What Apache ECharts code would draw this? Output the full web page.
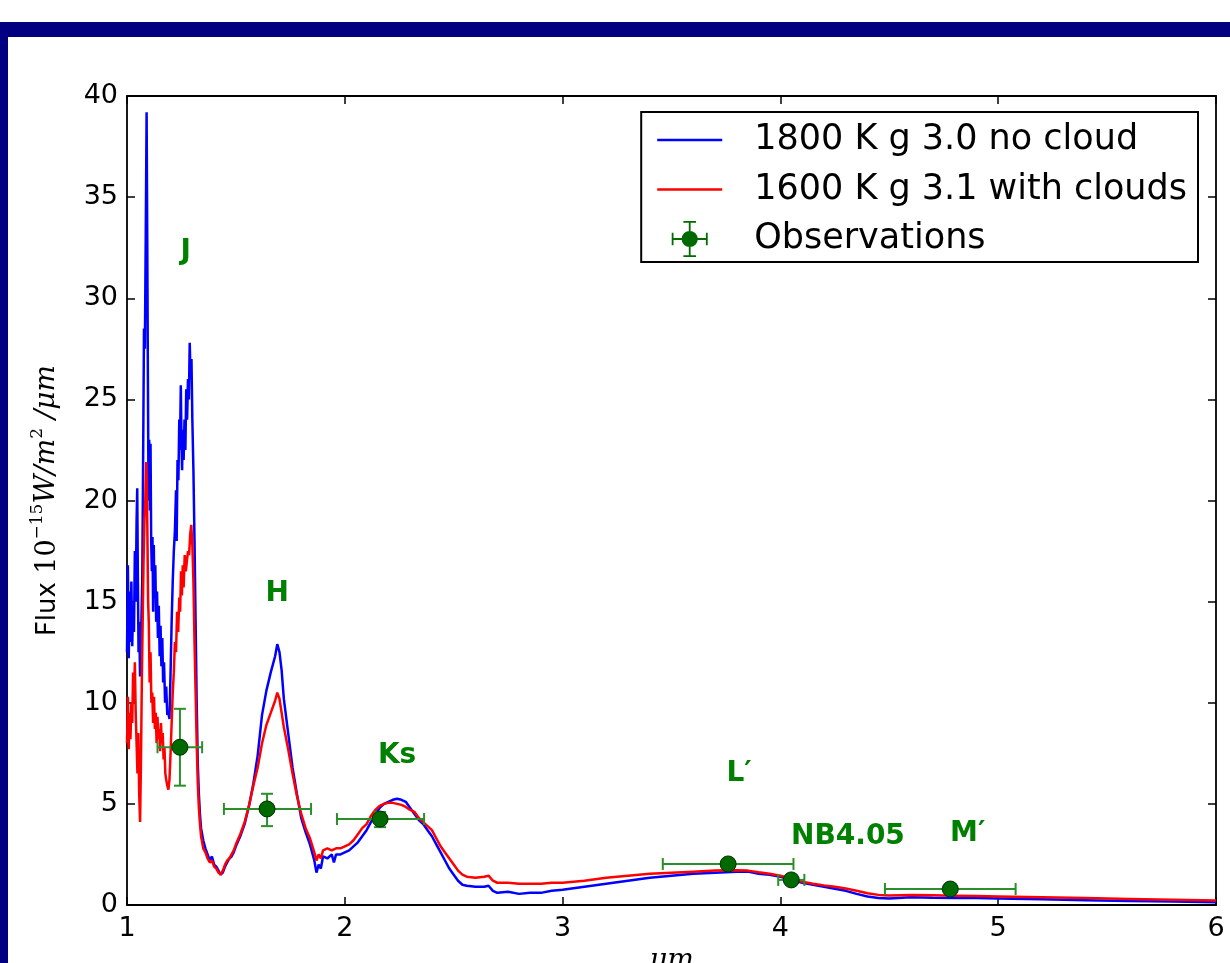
<!DOCTYPE html>
<html>
<head>
<meta charset="utf-8">
<script src="https://cdn.jsdelivr.net/npm/echarts@6/dist/echarts.min.js"></script>
<style>
html,body{margin:0;padding:0;background:#fff;overflow:hidden;}
#chart{width:1230px;height:963px;}
</style>
</head>
<body>
<div id="chart"></div>
<script>
// ---------- DATA ----------
const xTicks = [1, 2, 3, 4, 5, 6];
const yTicks = [0, 5, 10, 15, 20, 25, 30, 35, 40];

const seriesNames = ['1800 K g 3.0 no cloud', '1600 K g 3.1 with clouds', 'Observations'];

// 1800 K g 3.0 no cloud  [wavelength µm, flux]
const noCloud = [
[1.000,12.5],[1.004,16.8],[1.008,12.2],[1.012,15.5],[1.016,13.0],[1.020,16.0],[1.024,12.8],[1.028,14.8],
[1.032,13.5],[1.036,17.5],[1.040,15.0],[1.044,19.0],[1.047,20.6],[1.050,16.0],[1.053,12.5],[1.056,14.0],
[1.060,11.3],[1.064,13.0],[1.070,16.0],[1.074,22.0],[1.078,28.5],[1.082,27.5],[1.086,33.0],[1.090,39.2],
[1.093,33.0],[1.096,26.0],[1.099,20.0],[1.102,23.0],[1.105,19.5],[1.108,22.8],[1.111,18.0],[1.114,16.5],
[1.117,18.2],[1.120,14.5],[1.123,17.8],[1.126,15.2],[1.130,16.8],[1.134,14.0],[1.138,15.5],[1.142,13.2],
[1.146,14.8],[1.150,12.3],[1.154,13.8],[1.158,11.8],[1.162,13.2],[1.166,11.0],[1.170,12.0],[1.175,10.0],
[1.180,10.8],[1.185,9.4],[1.190,9.5],[1.195,9.2],[1.200,11.5],[1.205,14.0],[1.210,16.0],[1.215,17.5],
[1.220,18.5],[1.225,20.5],[1.228,18.0],[1.232,22.0],[1.236,21.0],[1.240,24.0],[1.243,22.5],[1.247,25.7],
[1.250,23.0],[1.253,21.5],[1.256,23.5],[1.260,22.0],[1.264,24.0],[1.268,22.5],[1.272,25.5],[1.276,24.0],
[1.280,26.0],[1.284,25.0],[1.288,27.8],[1.292,26.0],[1.296,27.0],[1.300,24.0],[1.305,21.5],[1.310,18.0],
[1.315,14.0],[1.320,10.0],[1.325,7.0],[1.330,5.5],[1.335,4.5],[1.340,3.8],[1.350,3.2],[1.360,2.8],
[1.370,2.5],[1.380,2.2],[1.390,2.4],[1.400,2.0],[1.410,1.9],[1.420,1.7],[1.430,1.5],[1.440,1.6],
[1.450,1.9],[1.460,2.1],[1.470,2.3],[1.480,2.4],[1.490,2.6],[1.500,2.9],[1.520,3.4],[1.540,4.0],
[1.560,4.9],[1.580,6.0],[1.600,7.4],[1.620,9.4],[1.640,10.6],[1.660,11.5],[1.680,12.3],[1.690,12.9],
[1.700,12.5],[1.710,11.6],[1.720,10.2],[1.740,8.5],[1.760,6.8],[1.780,5.5],[1.800,4.3],[1.820,3.6],
[1.840,3.0],[1.860,2.2],[1.870,1.6],[1.880,2.0],[1.890,1.8],[1.900,2.4],[1.920,2.3],[1.940,2.5],
[1.950,2.1],[1.960,2.5],[1.980,2.5],[2.000,2.6],[2.020,2.7],[2.040,2.9],[2.060,3.1],[2.080,3.4],
[2.100,3.7],[2.120,4.1],[2.140,4.5],[2.160,4.8],[2.180,5.0],[2.200,5.1],[2.220,5.2],[2.240,5.25],
[2.260,5.2],[2.280,5.1],[2.300,4.8],[2.320,4.5],[2.340,4.2],[2.360,4.0],[2.380,3.7],[2.400,3.4],
[2.420,3.0],[2.440,2.6],[2.460,2.2],[2.480,1.8],[2.500,1.5],[2.520,1.2],[2.540,1.0],[2.560,0.95],
[2.600,0.9],[2.640,0.9],[2.660,0.95],[2.680,0.7],[2.700,0.6],[2.750,0.65],[2.800,0.55],[2.850,0.6],
[2.900,0.6],[2.950,0.7],[3.000,0.75],[3.100,0.9],[3.200,1.05],[3.300,1.2],[3.400,1.35],[3.500,1.45],
[3.600,1.55],[3.700,1.6],[3.800,1.65],[3.850,1.65],[3.900,1.55],[3.950,1.5],[4.000,1.4],[4.050,1.25],
[4.100,1.1],[4.150,1.0],[4.200,0.9],[4.250,0.8],[4.300,0.7],[4.350,0.55],[4.400,0.42],[4.450,0.35],
[4.500,0.32],[4.600,0.38],[4.700,0.36],[4.800,0.35],[4.900,0.34],[5.000,0.32],[5.200,0.28],[5.400,0.24],
[5.600,0.2],[5.800,0.17],[6.000,0.14]
];

// 1600 K g 3.1 with clouds  [wavelength µm, flux]
const withClouds = [
[1.000,8.0],[1.004,10.3],[1.008,7.7],[1.012,9.5],[1.016,8.2],[1.020,10.0],[1.024,9.0],[1.028,11.5],
[1.032,10.0],[1.036,12.0],[1.040,9.5],[1.044,8.0],[1.048,6.5],[1.052,8.5],[1.056,5.5],[1.060,4.1],
[1.064,7.0],[1.068,11.0],[1.072,14.0],[1.076,17.0],[1.080,19.0],[1.084,20.0],[1.088,21.9],[1.091,21.0],
[1.094,18.0],[1.097,15.0],[1.100,14.0],[1.104,11.0],[1.108,12.5],[1.112,10.0],[1.116,10.5],[1.120,9.0],
[1.124,10.3],[1.128,8.7],[1.132,9.5],[1.136,8.0],[1.140,9.3],[1.144,8.2],[1.148,8.7],[1.152,7.6],
[1.156,9.0],[1.160,8.0],[1.164,8.5],[1.168,7.2],[1.172,7.8],[1.176,6.5],[1.180,6.2],[1.185,5.9],
[1.190,5.7],[1.195,6.2],[1.200,7.5],[1.205,9.0],[1.210,10.5],[1.215,11.5],[1.220,13.0],[1.225,12.5],
[1.230,14.5],[1.235,13.5],[1.240,15.2],[1.244,14.5],[1.248,16.5],[1.252,15.3],[1.256,16.8],[1.260,15.7],
[1.265,17.3],[1.270,16.5],[1.275,17.0],[1.280,17.5],[1.285,17.3],[1.290,18.3],[1.295,18.8],[1.300,17.8],
[1.305,16.0],[1.310,13.0],[1.315,10.5],[1.320,8.0],[1.325,6.0],[1.330,4.8],[1.335,4.0],[1.340,3.4],
[1.350,2.8],[1.360,2.6],[1.370,2.3],[1.380,2.1],[1.390,2.2],[1.400,1.9],[1.410,1.8],[1.420,1.6],
[1.430,1.5],[1.440,1.7],[1.450,2.0],[1.460,2.2],[1.470,2.3],[1.480,2.5],[1.490,2.7],[1.500,3.0],
[1.520,3.5],[1.540,4.1],[1.560,4.9],[1.580,5.9],[1.600,6.8],[1.620,8.0],[1.640,8.9],[1.660,9.5],
[1.680,10.1],[1.690,10.5],[1.700,10.2],[1.710,9.5],[1.720,8.8],[1.740,7.7],[1.760,6.5],[1.780,5.4],
[1.800,4.5],[1.820,3.8],[1.840,3.3],[1.860,2.6],[1.870,2.2],[1.880,2.5],[1.890,2.3],[1.900,2.7],
[1.920,2.8],[1.940,2.7],[1.960,2.8],[1.980,2.8],[2.000,2.9],[2.020,3.0],[2.040,3.2],[2.060,3.5],
[2.080,3.8],[2.100,4.0],[2.120,4.4],[2.140,4.7],[2.160,4.9],[2.180,5.0],[2.200,5.05],[2.220,5.05],
[2.240,5.0],[2.260,4.95],[2.280,4.85],[2.300,4.7],[2.320,4.6],[2.340,4.3],[2.360,4.1],[2.380,3.9],
[2.400,3.7],[2.420,3.3],[2.440,2.9],[2.460,2.6],[2.480,2.3],[2.500,2.0],[2.520,1.7],[2.540,1.5],
[2.560,1.4],[2.600,1.35],[2.640,1.4],[2.660,1.45],[2.680,1.2],[2.700,1.1],[2.750,1.1],[2.800,1.05],
[2.850,1.05],[2.900,1.05],[2.950,1.1],[3.000,1.1],[3.100,1.2],[3.200,1.35],[3.300,1.45],[3.400,1.55],
[3.500,1.6],[3.600,1.65],[3.700,1.7],[3.800,1.72],[3.850,1.7],[3.900,1.62],[3.950,1.55],[4.000,1.45],
[4.050,1.3],[4.100,1.15],[4.150,1.05],[4.200,0.97],[4.250,0.9],[4.300,0.82],[4.350,0.7],[4.400,0.58],
[4.450,0.5],[4.500,0.47],[4.600,0.5],[4.700,0.48],[4.800,0.46],[4.900,0.44],[5.000,0.42],[5.200,0.38],
[5.400,0.34],[5.600,0.3],[5.800,0.26],[6.000,0.22]
];

// Observations: centre x, centre y, x low, x high, y low, y high
const obsX    = [1.243, 1.643, 2.162, 3.760, 4.050, 4.780];
const obsY    = [7.80,  4.75,  4.25,  2.03,  1.24,  0.79];
const obsXLo  = [1.140, 1.445, 1.964, 3.460, 3.990, 4.480];
const obsXHi  = [1.345, 1.845, 2.364, 4.060, 4.110, 5.080];
const obsYLo  = [5.90,  3.90,  3.85,  2.03,  1.24,  0.79];
const obsYHi  = [9.70,  5.50,  4.60,  2.03,  1.24,  0.79];

// Band labels
const bandNames = ['J', 'H', 'Ks', 'L\u2032', 'NB4.05', 'M\u2032'];
const bandX     = [1.27, 1.69, 2.24, 3.81, 4.31, 4.86];
const bandY     = [32.3, 15.4, 7.4, 6.5, 3.4, 3.5];

// ---------- CHART ----------
const obsData = obsX.map((x, i) => [x, obsY[i], obsXLo[i], obsXHi[i], obsYLo[i], obsYHi[i]]);
const bandData = bandNames.map((n, i) => ({ name: n, value: [bandX[i], bandY[i]] }));

const SANS = 'DejaVu Sans';
const SERIF = 'DejaVu Serif';
const GREEN_BAR = '#2a8f2a';
const GREEN_DOT = '#006a00';

const lineIcon = 'path://M0 0H64V2.4H0Z';
const obsIcon = 'path://M0 19H40V21H0Z M0 13H2V27H0Z M38 13H40V27H38Z M19 0H21V40H19Z M13 0H27V2H13Z M13 38H27V40H13Z M20 11A9 9 0 1 1 20 29A9 9 0 1 1 20 11Z';

const chart = echarts.init(document.getElementById('chart'), null, { renderer: 'canvas' });

const tickStyle = { show: true, inside: true, length: 8, lineStyle: { color: '#000', width: 1.5 } };
const lineStyleAx = { show: true, onZero: false, lineStyle: { color: '#000', width: 1.8 } };

chart.setOption({
  animation: false,
  backgroundColor: '#ffffff',
  graphic: [
    { type: 'rect', left: 0, top: 22, shape: { width: 1230, height: 15 }, style: { fill: '#000080' }, z: 100 },
    { type: 'rect', left: 0, top: 22, shape: { width: 8, height: 941 }, style: { fill: '#000080' }, z: 100 }
  ],
  grid: { left: 127, right: 14, top: 96, bottom: 58, containLabel: false, outerBoundsMode: 'none' },
  legend: {
    orient: 'vertical',
    right: 32,
    top: 112,
    padding: [10, 11, 5, 16],
    itemGap: 13.5,
    itemWidth: 65,
    itemHeight: 36,
    borderColor: '#000',
    borderWidth: 2,
    backgroundColor: '#fff',
    textStyle: { fontFamily: SANS, fontSize: 35, color: '#000', lineHeight: 36, padding: [0, 0, 0, 27] },
    data: [
      { name: seriesNames[0], icon: lineIcon },
      { name: seriesNames[1], icon: lineIcon },
      { name: seriesNames[2], icon: obsIcon, itemStyle: { color: GREEN_DOT } }
    ]
  },
  xAxis: [
    {
      type: 'value', min: xTicks[0], max: xTicks[xTicks.length - 1], interval: 1,
      position: 'bottom',
      axisLine: lineStyleAx, axisTick: tickStyle, splitLine: { show: false },
      axisLabel: { fontFamily: SANS, fontSize: 27, color: '#000', margin: 10 },
      name: '\u03bcm', nameLocation: 'middle', nameGap: 40,
      nameTextStyle: { fontFamily: SERIF, fontStyle: 'italic', fontSize: 28, color: '#000' }
    },
    {
      type: 'value', min: xTicks[0], max: xTicks[xTicks.length - 1], interval: 1,
      position: 'top',
      axisLine: lineStyleAx, axisTick: tickStyle, splitLine: { show: false },
      axisLabel: { show: false }
    }
  ],
  yAxis: [
    {
      type: 'value', min: yTicks[0], max: yTicks[yTicks.length - 1], interval: 5,
      position: 'left',
      axisLine: lineStyleAx, axisTick: tickStyle, splitLine: { show: false },
      axisLabel: { fontFamily: SANS, fontSize: 27, color: '#000', margin: 9 },
      name: '{f|Flux }{n|10}{s|\u221215}{m|W/m}{s|2}{m| /\u03bcm}',
      nameLocation: 'middle', nameGap: 66, nameRotate: 90,
      nameTextStyle: {
        color: '#000',
        rich: {
          f: { fontFamily: SANS, fontSize: 26, color: '#000', lineHeight: 32, verticalAlign: 'bottom' },
          n: { fontFamily: SERIF, fontSize: 27, color: '#000', lineHeight: 32, verticalAlign: 'bottom' },
          m: { fontFamily: SERIF, fontStyle: 'italic', fontSize: 28, color: '#000', lineHeight: 32, verticalAlign: 'bottom' },
          s: { fontFamily: SERIF, fontSize: 17, color: '#000', lineHeight: 32, verticalAlign: 'top' }
        }
      }
    },
    {
      type: 'value', min: yTicks[0], max: yTicks[yTicks.length - 1], interval: 5,
      position: 'right',
      axisLine: lineStyleAx, axisTick: tickStyle, splitLine: { show: false },
      axisLabel: { show: false }
    }
  ],
  series: [
    {
      name: seriesNames[0], type: 'line', xAxisIndex: 0, yAxisIndex: 0,
      data: noCloud, symbol: 'none', smooth: false,
      lineStyle: { color: '#0000ff', width: 2.5 }, itemStyle: { color: '#0000ff' }, z: 2
    },
    {
      name: seriesNames[1], type: 'line', xAxisIndex: 0, yAxisIndex: 0,
      data: withClouds, symbol: 'none', smooth: false,
      lineStyle: { color: '#ff0000', width: 2.5 }, itemStyle: { color: '#ff0000' }, z: 3
    },
    {
      name: seriesNames[2], type: 'custom', xAxisIndex: 0, yAxisIndex: 0,
      data: obsData, itemStyle: { color: GREEN_DOT }, z: 5,
      renderItem: function (params, api) {
        const x = api.value(0), y = api.value(1);
        const c = api.coord([x, y]);
        const l = api.coord([api.value(2), y]);
        const r = api.coord([api.value(3), y]);
        const b = api.coord([x, api.value(4)]);
        const t = api.coord([x, api.value(5)]);
        const cap = 6;
        const st = { stroke: GREEN_BAR, lineWidth: 2 };
        const children = [
          { type: 'line', shape: { x1: l[0], y1: c[1], x2: r[0], y2: c[1] }, style: st },
          { type: 'line', shape: { x1: l[0], y1: c[1] - cap, x2: l[0], y2: c[1] + cap }, style: st },
          { type: 'line', shape: { x1: r[0], y1: c[1] - cap, x2: r[0], y2: c[1] + cap }, style: st }
        ];
        if (Math.abs(t[1] - b[1]) > 1) {
          children.push(
            { type: 'line', shape: { x1: c[0], y1: t[1], x2: c[0], y2: b[1] }, style: st },
            { type: 'line', shape: { x1: c[0] - cap, y1: t[1], x2: c[0] + cap, y2: t[1] }, style: st },
            { type: 'line', shape: { x1: c[0] - cap, y1: b[1], x2: c[0] + cap, y2: b[1] }, style: st }
          );
        }
        children.push({ type: 'circle', shape: { cx: c[0], cy: c[1], r: 8 }, style: { fill: GREEN_DOT, stroke: '#003000', lineWidth: 1 } });
        return { type: 'group', children: children };
      }
    },
    {
      name: 'bands', type: 'scatter', xAxisIndex: 0, yAxisIndex: 0,
      data: bandData, symbolSize: 0, silent: true, z: 6,
      itemStyle: { opacity: 1 },
      label: {
        show: true, position: 'inside', formatter: '{b}',
        fontFamily: SANS, fontWeight: 'bold', fontSize: 28, color: '#008000', opacity: 1
      }
    }
  ]
});
</script>
</body>
</html>
